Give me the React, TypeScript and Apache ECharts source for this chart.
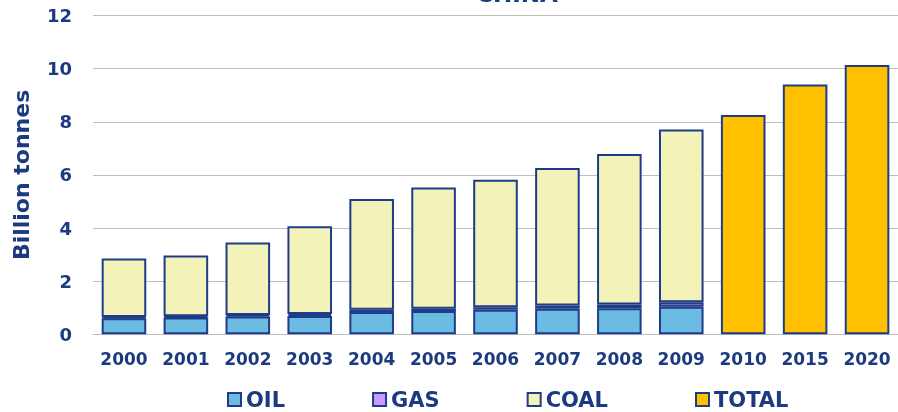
import React, { useEffect, useRef } from "react";
import * as echarts from "echarts";

const categories = ["2000", "2001", "2002", "2003", "2004", "2005", "2006", "2007", "2008", "2009", "2010", "2015", "2020"];
const oil = [0.6, 0.63, 0.67, 0.69, 0.84, 0.88, 0.92, 0.96, 0.98, 1.04, null, null, null];
const gas = [0.05, 0.05, 0.06, 0.07, 0.08, 0.08, 0.1, 0.12, 0.14, 0.17, null, null, null];
const coal = [2.2, 2.29, 2.73, 3.31, 4.17, 4.57, 4.8, 5.18, 5.67, 6.5, null, null, null];
const total = [null, null, null, null, null, null, null, null, null, null, 8.25, 9.4, 10.14];
const yTicks = [0, 2, 4, 6, 8, 10, 12];

const NAVY = "#1B3A80";
const BORDER = "#1F3C88";
const FONT = "DejaVu Sans";

export default function App() {
  const ref = useRef<HTMLDivElement>(null);
  useEffect(() => {
    if (!ref.current) return;
    const chart = echarts.init(ref.current, null, { renderer: "svg" });
    const mk = (name: string, data: (number | null)[], color: string) => ({
      name,
      type: "bar",
      stack: "all",
      data,
      barWidth: "72%",
      itemStyle: { color, borderColor: BORDER, borderWidth: 2 },
    });
    chart.setOption({
      animation: false,
      graphic: [
        {
          type: "text",
          left: 476,
          top: -18,
          style: { text: "CHINA", fill: NAVY, font: `bold 23px '${FONT}'` },
        },
      ],
      grid: { left: 93, right: -4, top: 15.5, bottom: 77.7 },
      legend: {
        left: 222,
        top: 384,
        itemWidth: 13,
        itemHeight: 13,
        itemGap: 87,
        icon: "rect",
        data: ["OIL", "GAS", "COAL", "TOTAL"],
        textStyle: { color: NAVY, fontFamily: FONT, fontWeight: "bold", fontSize: 21 },
      },
      xAxis: {
        type: "category",
        data: categories,
        axisTick: { show: false },
        axisLine: { lineStyle: { color: "#BFBFBF", width: 1 } },
        axisLabel: { color: NAVY, fontFamily: FONT, fontWeight: "bold", fontSize: 17, margin: 16 },
      },
      yAxis: {
        type: "value",
        min: yTicks[0],
        max: yTicks[yTicks.length - 1],
        interval: 2,
        name: "Billion tonnes",
        nameLocation: "middle",
        nameGap: 61,
        nameTextStyle: { color: NAVY, fontFamily: FONT, fontWeight: "bold", fontSize: 22 },
        axisLine: { show: false },
        axisTick: { show: false },
        splitLine: { lineStyle: { color: "#BFBFBF", width: 1 } },
        axisLabel: { color: NAVY, fontFamily: FONT, fontWeight: "bold", fontSize: 18, margin: 21 },
      },
      series: [
        mk("OIL", oil, "#6BBBE3"),
        mk("GAS", gas, "#CC99FF"),
        mk("COAL", coal, "#F2F2B9"),
        mk("TOTAL", total, "#FFC000"),
      ],
    });
    return () => chart.dispose();
  }, []);
  return <div ref={ref} style={{ position: "fixed", left: 0, top: 0, width: 898, height: 412 }} />;
}
